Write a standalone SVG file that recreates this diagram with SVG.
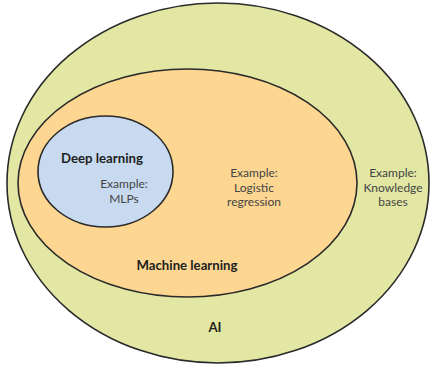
<svg xmlns="http://www.w3.org/2000/svg" width="430" height="365" viewBox="0 0 430 365">
  <style>
    .ring { stroke: #2a2a2a; stroke-width: 1.6; }
    .lbl { font-family: "Lato", "Liberation Sans", sans-serif; font-size: 12px; fill: #444; text-anchor: middle; }
    .ttl { font-family: "Lato", "Liberation Sans", sans-serif; font-size: 13.2px; font-weight: bold; fill: #1e1e1e; text-anchor: middle; }
  </style>
  <rect width="430" height="365" fill="#ffffff"/>
  <g id="ai">
    <ellipse class="ring" cx="218" cy="183" rx="211" ry="180" fill="#e2e8a4"/>
    <text class="lbl" x="393" y="177">Example:</text>
    <text class="lbl" x="393" y="191.5">Knowledge</text>
    <text class="lbl" x="393" y="206">bases</text>
    <text class="ttl" x="215" y="332">AI</text>
  </g>
  <g id="machine-learning">
    <ellipse class="ring" cx="187.5" cy="183" rx="169.5" ry="114" fill="#fdd692"/>
    <text class="lbl" x="254" y="177">Example:</text>
    <text class="lbl" x="254" y="191.5">Logistic</text>
    <text class="lbl" x="254" y="206">regression</text>
    <text class="ttl" x="187" y="270">Machine learning</text>
  </g>
  <g id="deep-learning">
    <ellipse class="ring" cx="105.5" cy="171.5" rx="67.5" ry="55.5" fill="#c8daf0"/>
    <text class="ttl" x="102" y="163">Deep learning</text>
    <text class="lbl" x="124" y="188">Example:</text>
    <text class="lbl" x="124" y="202.5">MLPs</text>
  </g>
  <g id="connectors"/>
</svg>
